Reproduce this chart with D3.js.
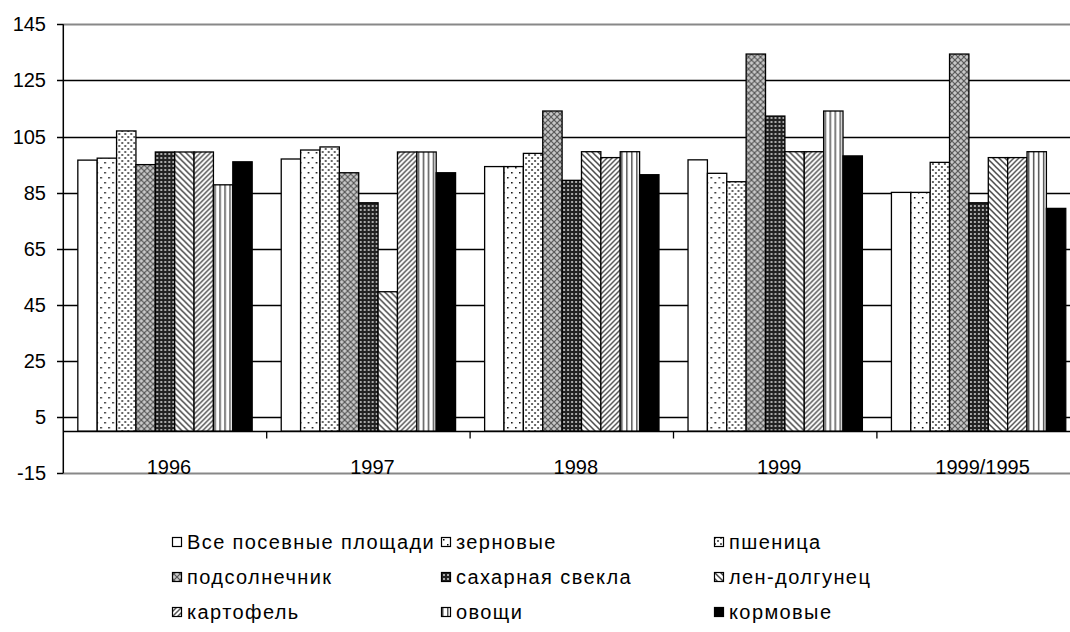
<!DOCTYPE html>
<html>
<head>
<meta charset="utf-8">
<script src="https://cdn.jsdelivr.net/npm/d3@7"></script>
<style>
  body { margin: 0; background: #fff; }
  text { font-family: "Liberation Sans", Arial, sans-serif; fill: #000; }
</style>
</head>
<body>
<div id="chart"></div>
<script>
var years = ['1996', '1997', '1998', '1999', '1999/1995'];
var seriesNames = ['Все посевные площади', 'зерновые', 'пшеница', 'подсолнечник',
                   'сахарная свекла', 'лен-долгунец', 'картофель', 'овощи', 'кормовые'];
var vsePloshchadi  = [96.6, 97, 94.3, 96.7, 85.1];
var zernovye       = [97.3, 100.2, 94.3, 91.9, 85.1];
var pshenitsa      = [107, 101.3, 99, 88.9, 95.8];
var podsolnechnik  = [95, 92.1, 114.1, 134.4, 134.4];
var sakharSvekla   = [99.5, 81.4, 89.4, 112.3, 81.4];
var lenDolgunets   = [99.5, 49.7, 99.6, 99.6, 97.5];
var kartofel       = [99.5, 99.5, 97.5, 99.6, 97.5];
var ovoshchi       = [87.8, 99.5, 99.6, 114.1, 99.6];
var kormovye       = [96, 92.1, 91.4, 98.1, 79.4];
var yTicks = [-15, 5, 25, 45, 65, 85, 105, 125, 145];

var allValues = [vsePloshchadi, zernovye, pshenitsa, podsolnechnik, sakharSvekla,
                 lenDolgunets, kartofel, ovoshchi, kormovye];

var width = 1070, height = 632;

var svg = d3.select('#chart').append('svg')
    .attr('width', width)
    .attr('height', height);

// fill patterns, one per series (black and white print style)
var defs = svg.append('defs');
function pat(id, w, h) {
  return defs.append('pattern').attr('id', id)
    .attr('patternUnits', 'userSpaceOnUse')
    .attr('width', w).attr('height', h);
}
var p;
p = pat('p0', 4, 4);
p.append('rect').attr('width', 4).attr('height', 4).attr('fill', '#fff');

p = pat('p1', 8, 10);
p.append('rect').attr('width', 8).attr('height', 10).attr('fill', '#fff');
p.append('rect').attr('x', 1).attr('y', 2).attr('width', 1.5).attr('height', 1.5).attr('fill', '#000');
p.append('rect').attr('x', 5).attr('y', 7).attr('width', 1.5).attr('height', 1.5).attr('fill', '#000');

p = pat('p2', 6, 6);
p.append('rect').attr('width', 6).attr('height', 6).attr('fill', '#fff');
p.append('rect').attr('x', 1).attr('y', 1).attr('width', 2).attr('height', 2).attr('fill', '#666');
p.append('rect').attr('x', 4).attr('y', 4).attr('width', 2).attr('height', 2).attr('fill', '#666');

p = pat('p3', 6, 6);
p.append('rect').attr('width', 6).attr('height', 6).attr('fill', '#c8c8c8');
p.append('path').attr('d', 'M0,0L6,6M6,0L0,6').attr('stroke', '#555').attr('stroke-width', 1.2);

p = pat('p4', 4, 4);
p.append('rect').attr('width', 4).attr('height', 4).attr('fill', '#222');
p.append('rect').attr('x', 1).attr('y', 1).attr('width', 2).attr('height', 2).attr('fill', '#aaa');

p = pat('p5', 6, 6);
p.append('rect').attr('width', 6).attr('height', 6).attr('fill', '#fff');
p.append('path').attr('d', 'M-1,-1L7,7M-1,5L1,7M5,-1L7,1').attr('stroke', '#444').attr('stroke-width', 1.5);

p = pat('p6', 5, 5);
p.append('rect').attr('width', 5).attr('height', 5).attr('fill', '#fff');
p.append('path').attr('d', 'M-1,6L6,-1M-1,1L1,-1M4,6L6,4').attr('stroke', '#555').attr('stroke-width', 1.5);

p = pat('p7', 5, 4);
p.append('rect').attr('width', 5).attr('height', 4).attr('fill', '#fff');
p.append('rect').attr('x', 1).attr('width', 1.5).attr('height', 4).attr('fill', '#555');

p = pat('p8', 4, 4);
p.append('rect').attr('width', 4).attr('height', 4).attr('fill', '#000');

var x0 = d3.scaleBand()
    .domain(years)
    .range([63.3, 1080.3]);

var x1 = d3.scaleBand()
    .domain(d3.range(seriesNames.length))
    .range([0, x0.bandwidth()])
    .paddingInner(0)
    .paddingOuter(0.75);

var yScale = d3.scaleLinear()
    .domain([-15, 145])
    .range([473.3, 24.3]);

// gridlines
svg.append('g').selectAll('line').data(yTicks)
  .enter().append('line')
    .attr('x1', 63.3).attr('x2', width)
    .attr('y1', function(d) { return Math.round(yScale(d)) + 0.5; })
    .attr('y2', function(d) { return Math.round(yScale(d)) + 0.5; })
    .attr('stroke', function(d) { return (d === 145 || d === -15) ? '#888' : '#000'; })
    .attr('stroke-width', function(d) { return (d === 145 || d === -15) ? 2 : 1.5; });

// bars
var groups = svg.append('g').selectAll('g').data(years)
  .enter().append('g')
    .attr('transform', function(d) { return 'translate(' + x0(d) + ',0)'; });

groups.selectAll('rect')
  .data(function(d, gi) {
    return allValues.map(function(vals, si) { return { s: si, v: vals[gi] }; });
  })
  .enter().append('rect')
    .attr('x', function(d) { return x1(d.s); })
    .attr('width', x1.bandwidth())
    .attr('y', function(d) { return yScale(d.v); })
    .attr('height', function(d) { return yScale(0) - yScale(d.v); })
    .attr('fill', function(d) { return 'url(#p' + d.s + ')'; })
    .attr('stroke', '#000')
    .attr('stroke-width', 1.3);

// category axis at 0
var zeroY = Math.round(yScale(0)) + 0.5;
svg.append('line')
    .attr('x1', 63.3).attr('x2', width)
    .attr('y1', zeroY).attr('y2', zeroY)
    .attr('stroke', '#000').attr('stroke-width', 1.5);

svg.append('g').selectAll('line').data(years.slice(1))
  .enter().append('line')
    .attr('x1', function(d) { return x0(d); })
    .attr('x2', function(d) { return x0(d); })
    .attr('y1', zeroY).attr('y2', zeroY + 7)
    .attr('stroke', '#000').attr('stroke-width', 1.3);

svg.append('g').selectAll('text').data(years)
  .enter().append('text')
    .attr('x', function(d) { return x0(d) + x0.bandwidth() / 2 + 4; })
    .attr('y', 474)
    .attr('text-anchor', 'middle')
    .style('font-size', '20px')
    .text(function(d) { return d; });

// value axis
svg.append('line')
    .attr('x1', 63.3).attr('x2', 63.3)
    .attr('y1', yScale(145)).attr('y2', yScale(-15))
    .attr('stroke', '#000').attr('stroke-width', 1.5);

svg.append('g').selectAll('line').data(yTicks)
  .enter().append('line')
    .attr('x1', 57).attr('x2', 63.3)
    .attr('y1', function(d) { return Math.round(yScale(d)) + 0.5; })
    .attr('y2', function(d) { return Math.round(yScale(d)) + 0.5; })
    .attr('stroke', '#000').attr('stroke-width', 1.5);

svg.append('g').selectAll('text').data(yTicks)
  .enter().append('text')
    .attr('x', 46)
    .attr('y', function(d) { return yScale(d) + 7; })
    .attr('text-anchor', 'end')
    .style('font-size', '20px')
    .text(function(d) { return d; });

// legend
var legX = [177, 446, 719], legY = [542, 577, 612];
var leg = svg.append('g').selectAll('g').data(seriesNames)
  .enter().append('g')
    .attr('transform', function(d, i) {
      return 'translate(' + legX[i % 3] + ',' + legY[Math.floor(i / 3)] + ')';
    });

leg.append('rect')
    .attr('x', -4.5).attr('y', -4.5)
    .attr('width', 9).attr('height', 9)
    .attr('fill', function(d, i) { return 'url(#p' + i + ')'; })
    .attr('stroke', '#000').attr('stroke-width', 1.2);

leg.append('text')
    .attr('x', 10)
    .attr('y', 7)
    .style('font-size', '20px')
    .style('letter-spacing', '1.4px')
    .text(function(d) { return d; });
</script>
</body>
</html>
